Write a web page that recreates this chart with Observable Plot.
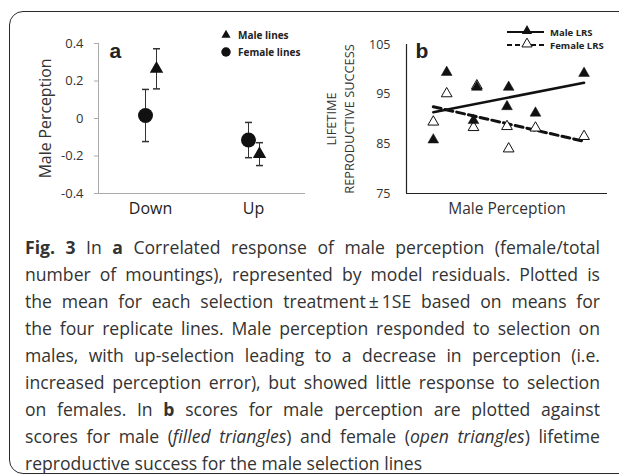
<!DOCTYPE html>
<html><head><meta charset="utf-8">
<script src="https://cdn.jsdelivr.net/npm/d3@7"></script>
<script src="https://cdn.jsdelivr.net/npm/@observablehq/plot@0.6"></script>
<style>
html,body{margin:0;padding:0;background:#fff;}
body{width:619px;height:476px;overflow:hidden;position:relative;font-family:"Open Sans",sans-serif;}
#box{position:absolute;left:9px;top:11px;width:700px;height:463px;border:1.5px solid #2a2a2a;border-radius:14px;box-sizing:border-box;}
#pa{position:absolute;left:0;top:0;}
#pb{position:absolute;left:300px;top:0;}
#pa svg,#pb svg{font-family:"Open Sans",sans-serif;overflow:visible;}
.leg{position:absolute;left:0;top:0;}
.cap{position:absolute;left:25px;width:575px;font-size:17.6px;color:#333;text-align:justify;text-align-last:justify;line-height:27px;height:27px;}
.cap.last{text-align-last:left;}
</style></head>
<body>
<div id="box"></div>
<div id="pa"></div>
<div id="pb"></div>
<svg class="leg" width="619" height="80" id="legend"></svg>
<div id="caption"></div>
<script>
// ---------- Panel a data ----------
const categories = ["Down", "Up"];
const maleMean = [0.265, -0.19];
const maleSE = [0.107, 0.061];
const femaleMean = [0.016, -0.115];
const femaleSE = [0.139, 0.094];
const yTicksA = [-0.4, -0.2, 0, 0.2, 0.4];
const yTickLabelsA = ["-0.4", "-0.2", "0", "0.2", "0.4"];

// ---------- Panel b data ----------
const perception = [-0.44, -0.36, -0.18, -0.20, 0.01, 0.00, 0.17, 0.46];
const maleLRS = [85.8, 99.4, 96.4, 89.7, 96.4, 92.5, 91.2, 99.2];
const femaleLRS = [89.4, 95.1, 96.7, 88.3, 84.0, 88.5, 88.2, 86.5];
const yTicksB = [75, 85, 95, 105];

// ---------- Caption ----------
const captionLines = [
  "<b>Fig. 3</b> In <b>a</b> Correlated response of male perception (female/total",
  "number of mountings), represented by model residuals. Plotted is",
  "the mean for each selection treatment\u2009\u00b1\u20091SE based on means for",
  "the four replicate lines. Male perception responded to selection on",
  "males, with up-selection leading to a decrease in perception (i.e.",
  "increased perception error), but showed little response to selection",
  "on females. In <b>b</b> scores for male perception are plotted against",
  "scores for male (<i>filled triangles</i>) and female (<i>open triangles</i>) lifetime",
  "reproductive success for the male selection lines"
];

const male = categories.map((c, i) => ({cat: c, mean: maleMean[i], lo: maleMean[i] - maleSE[i], hi: maleMean[i] + maleSE[i]}));
const female = categories.map((c, i) => ({cat: c, mean: femaleMean[i], lo: femaleMean[i] - femaleSE[i], hi: femaleMean[i] + femaleSE[i]}));
const capSymbol = {draw(ctx) { ctx.moveTo(-3.5, 0); ctx.lineTo(3.5, 0); }};

const dF = -5, dM = 6;
const plotA = Plot.plot({
  width: 310, height: 230,
  marginLeft: 98, marginRight: 5, marginTop: 43, marginBottom: 37,
  x: {type: "point", domain: categories, padding: 0.5},
  y: {domain: [-0.4, 0.4]},
  marks: [
    Plot.ruleY([-0.4], {stroke: "#aaa"}),
    Plot.frame({anchor: "left", stroke: "#aaa"}),
    Plot.axisY({ticks: yTicksA, tickFormat: d => yTickLabelsA[yTicksA.indexOf(d)], tickSize: 4, tickPadding: 11, stroke: "#aaa", fill: "#333", fontSize: 13, label: null}),
    Plot.axisX({tickSize: 0, tickPadding: 9, fontSize: 16, fill: "#222", label: null}),
    Plot.text(["Male Perception"], {frameAnchor: "left", dx: -53, rotate: -90, textAnchor: "middle", lineAnchor: "middle", fontSize: 15.8, fill: "#333"}),
    Plot.text(["a"], {frameAnchor: "top-left", dx: 11, dy: 0, lineAnchor: "top", textAnchor: "start", fontSize: 21, fontWeight: "bold", fontFamily: "Liberation Sans, Arial, sans-serif", fill: "#222"}),
    Plot.ruleX(female, {x: "cat", y1: "lo", y2: "hi", dx: dF, stroke: "#333"}),
    Plot.dot(female, {x: "cat", y: "lo", symbol: capSymbol, fill: "none", stroke: "#333", dx: dF}),
    Plot.dot(female, {x: "cat", y: "hi", symbol: capSymbol, fill: "none", stroke: "#333", dx: dF}),
    Plot.ruleX(male, {x: "cat", y1: "lo", y2: "hi", dx: dM, stroke: "#333"}),
    Plot.dot(male, {x: "cat", y: "lo", symbol: capSymbol, fill: "none", stroke: "#333", dx: dM}),
    Plot.dot(male, {x: "cat", y: "hi", symbol: capSymbol, fill: "none", stroke: "#333", dx: dM}),
    Plot.dot(female, {x: "cat", y: "mean", r: 7.5, fill: "#111", dx: dF}),
    Plot.dot(male, {x: "cat", y: "mean", r: 5, symbol: "triangle", fill: "#111", dx: dM})
  ]
});
document.getElementById("pa").appendChild(plotA);

const lines = perception.map((p, i) => ({p, m: maleLRS[i], f: femaleLRS[i]}));
const plotB = Plot.plot({
  width: 319, height: 230,
  marginLeft: 106, marginRight: 12, marginTop: 44, marginBottom: 37,
  x: {domain: [-0.6, 0.6], axis: null},
  y: {domain: [75, 105], axis: null},
  marks: [
    Plot.ruleY([75], {stroke: "#222", strokeWidth: 1.2}),
    Plot.ruleX([-0.6], {stroke: "#222", strokeWidth: 1.2}),
    Plot.axisY({ticks: yTicksB, tickSize: 0, tickPadding: 16, fontSize: 12.5, fill: "#333", label: null}),
    Plot.text(["LIFETIME\nREPRODUCTIVE SUCCESS"], {frameAnchor: "left", dx: -67, rotate: -90, textAnchor: "middle", lineAnchor: "middle", fontSize: 12.8, lineHeight: 1.4, fill: "#333"}),
    Plot.text(["Male Perception"], {frameAnchor: "bottom", dy: 9, lineAnchor: "top", textAnchor: "middle", fontSize: 15.5, fill: "#333"}),
    Plot.text(["b"], {frameAnchor: "top-left", dx: 9, dy: -1, lineAnchor: "top", textAnchor: "start", fontSize: 21, fontWeight: "bold", fontFamily: "Liberation Sans, Arial, sans-serif", fill: "#222"}),
    Plot.linearRegressionY(lines, {x: "p", y: "m", ci: 0, stroke: "#111", strokeWidth: 2.5}),
    Plot.linearRegressionY(lines, {x: "p", y: "f", ci: 0, stroke: "#111", strokeWidth: 3, strokeDasharray: "8,4"}),
    Plot.dot(lines, {x: "p", y: "f", r: 4, symbol: "triangle", fill: "white", stroke: "#111", strokeWidth: 1}),
    Plot.dot(lines, {x: "p", y: "m", r: 4, symbol: "triangle", fill: "#111", stroke: "#111", strokeWidth: 0.5})
  ]
});
document.getElementById("pb").appendChild(plotB);

// ---------- Legends ----------
const leg = d3.select("#legend");
const tri = d3.symbol(d3.symbolTriangle);
const circ = d3.symbol(d3.symbolCircle);
const legFont = "Open Sans, sans-serif";
// panel a legend
leg.append("path").attr("d", tri.size(36)()).attr("transform", "translate(226,35)").attr("fill", "#111");
leg.append("path").attr("d", circ.size(70)()).attr("transform", "translate(226,52)").attr("fill", "#111");
leg.append("text").attr("x", 238).attr("y", 39).text("Male lines").attr("font-size", 10).attr("font-weight", "bold").attr("font-family", legFont).attr("fill", "#222");
leg.append("text").attr("x", 238).attr("y", 56).text("Female lines").attr("font-size", 10).attr("font-weight", "bold").attr("font-family", legFont).attr("fill", "#222");
// panel b legend
leg.append("line").attr("x1", 507).attr("x2", 544).attr("y1", 32).attr("y2", 32).attr("stroke", "#111").attr("stroke-width", 2);
leg.append("path").attr("d", tri.size(45)()).attr("transform", "translate(527,31)").attr("fill", "#111");
leg.append("line").attr("x1", 507).attr("x2", 544).attr("y1", 45).attr("y2", 45).attr("stroke", "#111").attr("stroke-width", 2).attr("stroke-dasharray", "5,3");
leg.append("path").attr("d", tri.size(45)()).attr("transform", "translate(527,44)").attr("fill", "white").attr("stroke", "#111");
leg.append("text").attr("x", 550).attr("y", 35.5).text("Male LRS").attr("font-size", 9.5).attr("font-weight", "bold").attr("font-family", legFont).attr("fill", "#222");
leg.append("text").attr("x", 550).attr("y", 49).text("Female LRS").attr("font-size", 9.5).attr("font-weight", "bold").attr("font-family", legFont).attr("fill", "#222");

// ---------- Caption ----------
const cap = document.getElementById("caption");
captionLines.forEach((t, i) => {
  const d = document.createElement("div");
  d.className = "cap" + (i === captionLines.length - 1 ? " last" : "");
  d.style.top = (234 + i * 27) + "px";
  d.innerHTML = t;
  cap.appendChild(d);
});
</script>
</body></html>
